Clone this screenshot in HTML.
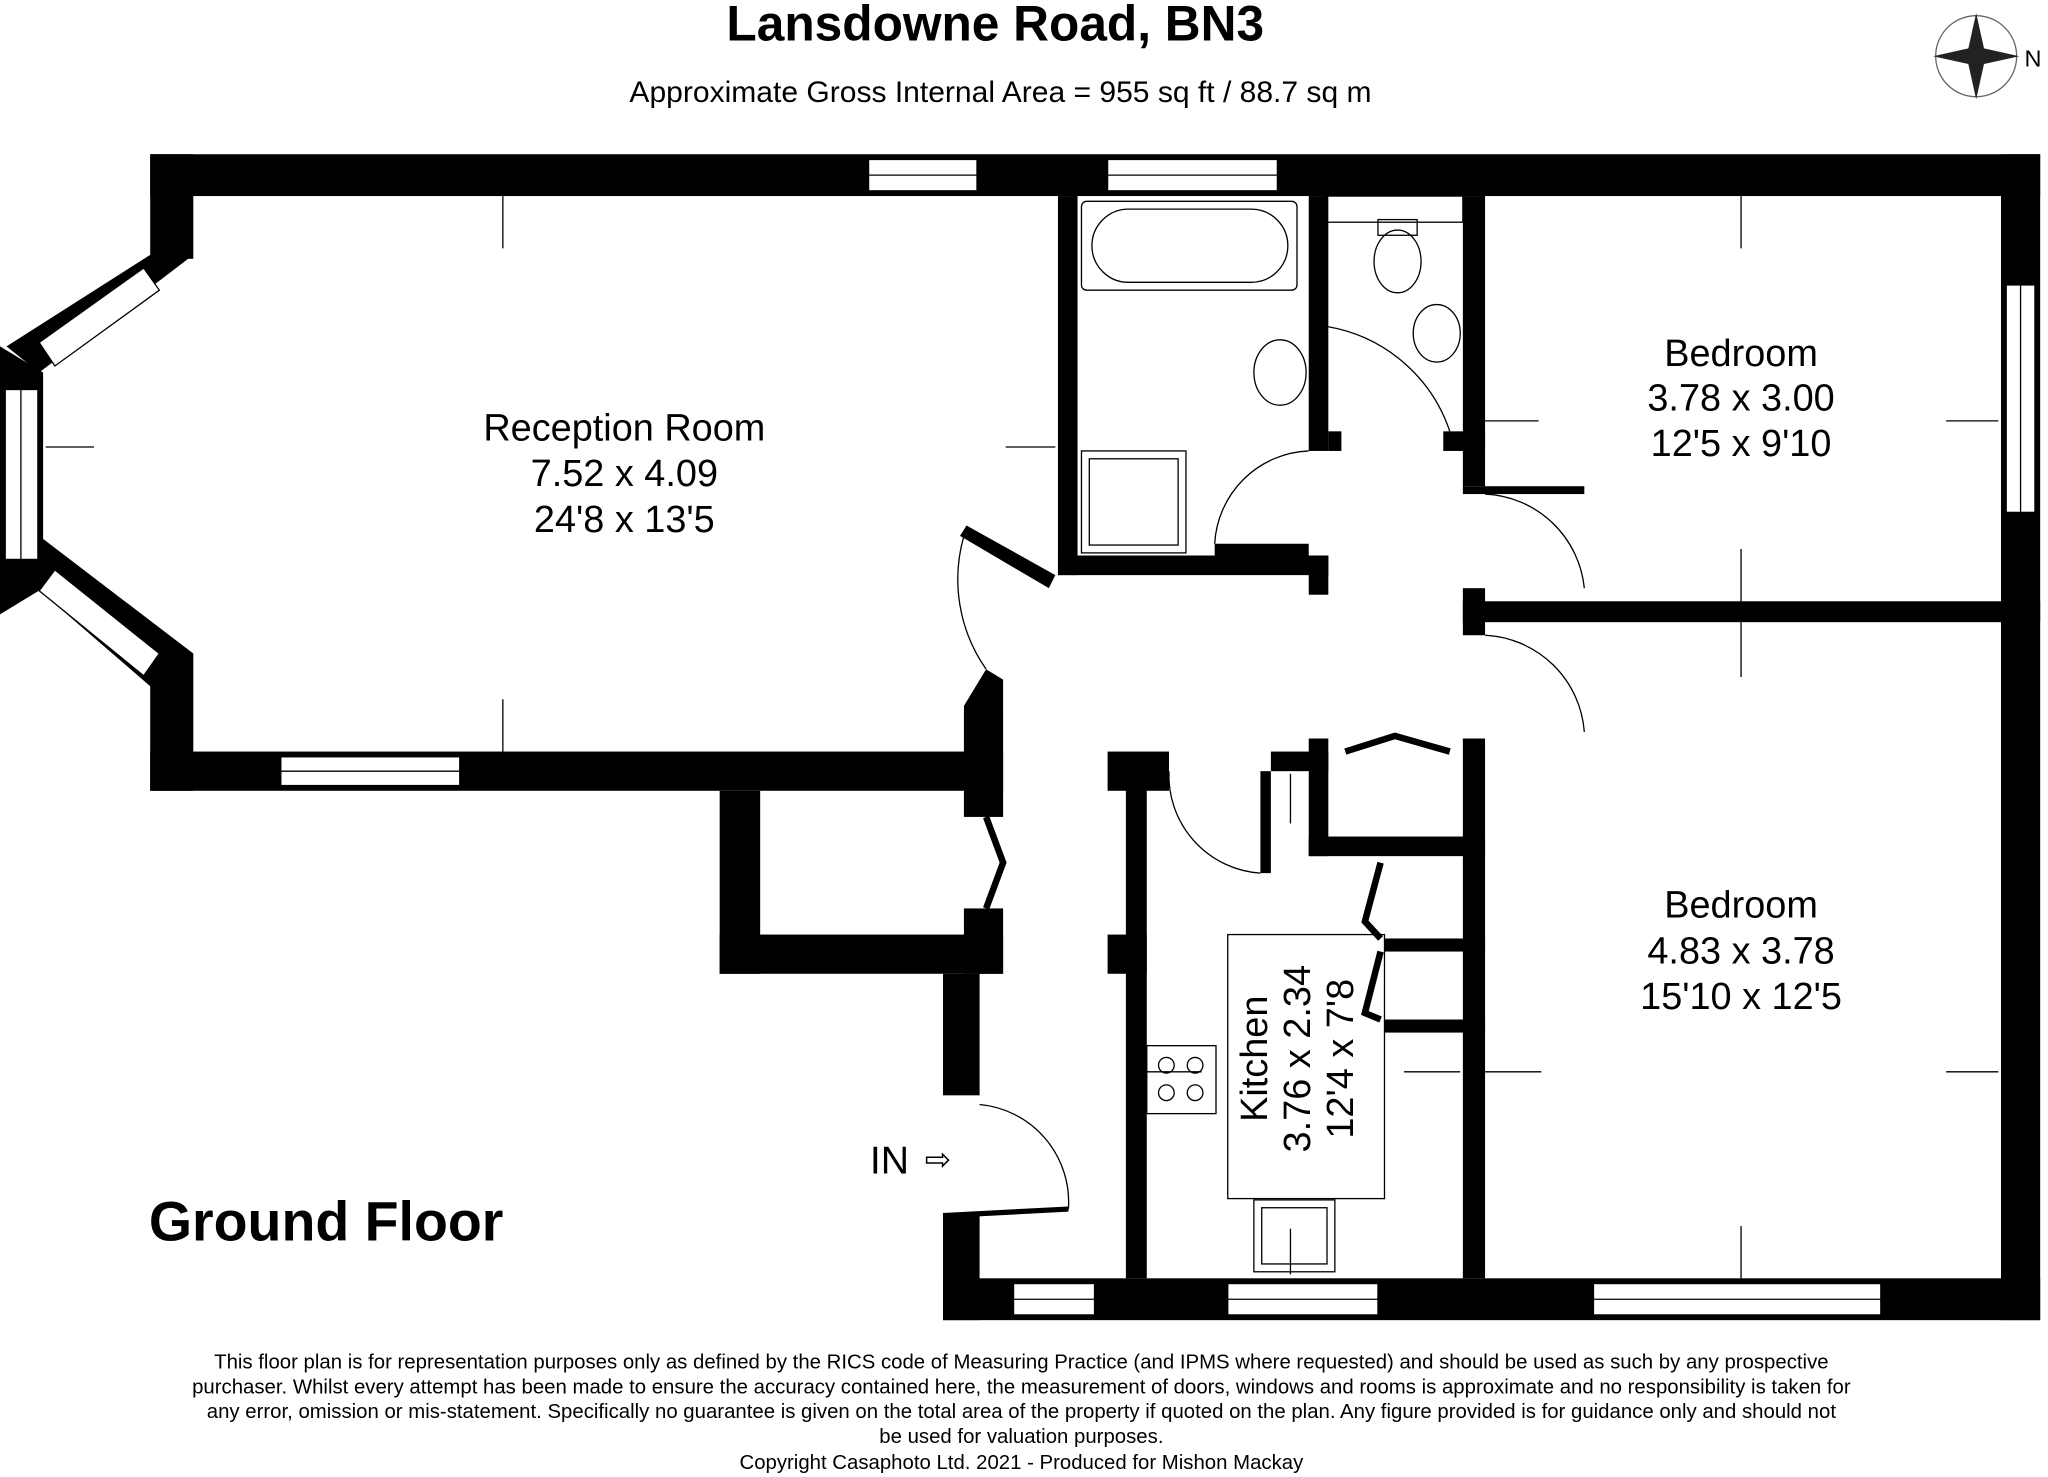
<!DOCTYPE html>
<html><head><meta charset="utf-8"><style>
html,body{margin:0;padding:0;background:#fff;}
svg{display:block;}
text{font-family:"Liberation Sans",sans-serif;fill:#000;}
</style></head><body>
<svg width="2048" height="1477" viewBox="0 0 1568 1130" preserveAspectRatio="none" xmlns="http://www.w3.org/2000/svg">
<rect width="1568" height="1130" fill="#fff"/>
<text x="762" y="31" font-size="38" font-weight="bold" text-anchor="middle">Lansdowne Road, BN3</text>
<text x="766" y="78" font-size="23" text-anchor="middle">Approximate Gross Internal Area = 955 sq ft / 88.7 sq m</text>
<circle cx="1513" cy="43" r="31" fill="none" stroke="#666" stroke-width="1"/>
<polygon points="1513,10 1519,37 1546,43 1519,49 1513,76 1507,49 1480,43 1507,37" fill="#222"/>
<text x="1550" y="51" font-size="18">N</text>
<g fill="#000">
<rect x="115" y="118" width="1447" height="32"/>
<rect x="1532" y="118" width="30" height="892"/>
<rect x="115" y="118" width="33" height="80"/>
<rect x="115" y="500" width="33" height="105"/>
<rect x="115" y="575" width="653" height="30"/>
<polygon points="115,195 148,195 30,285 5,265"/>
<polygon points="0,265 33,285 33,450 0,470"/>
<polygon points="5,430 30,410 148,500 115,525"/>
<rect x="722" y="978" width="840" height="32"/>
<rect x="722" y="745" width="28" height="93"/>
<rect x="722" y="930" width="28" height="80"/>
<rect x="551" y="605" width="31" height="140"/>
<rect x="551" y="715" width="217" height="30"/>
<rect x="738" y="575" width="30" height="50"/>
<rect x="738" y="695" width="30" height="50"/>
<polygon points="738,540 755,512 768,520 768,575 738,575"/>
<rect x="862" y="590" width="16" height="388"/>
<rect x="848" y="575" width="47" height="30"/>
<rect x="848" y="715" width="30" height="30"/>
<rect x="810" y="150" width="15" height="290"/>
<rect x="810" y="425" width="207" height="15"/>
<rect x="1002" y="425" width="15" height="30"/>
<rect x="930" y="416" width="72" height="9"/>
<rect x="1002" y="150" width="15" height="195"/>
<rect x="1017" y="330" width="10" height="15"/>
<polygon points="735,410 740,402 808,440 803,450"/>
<rect x="1120" y="150" width="17" height="222"/>
<rect x="1105" y="330" width="32" height="15"/>
<rect x="1120" y="372" width="93" height="6"/>
<rect x="1120" y="460" width="442" height="16"/>
<rect x="1120" y="450" width="17" height="36"/>
<rect x="1120" y="565" width="17" height="413"/>
<rect x="1002" y="565" width="15" height="90"/>
<rect x="1002" y="640" width="135" height="15"/>
<rect x="1060" y="718" width="77" height="10"/>
<rect x="1060" y="780" width="77" height="10"/>
<rect x="973" y="575" width="44" height="15"/>
<rect x="965" y="590" width="8" height="78"/>
</g>
<g fill="#fff" stroke="#000" stroke-width="1">
<rect x="665" y="122" width="83" height="24"/><line x1="665" y1="134" x2="748" y2="134"/>
<rect x="848" y="122" width="130" height="24"/><line x1="848" y1="134" x2="978" y2="134"/>
<rect x="1536" y="218" width="22" height="174"/><line x1="1547" y1="218" x2="1547" y2="392"/>
<rect x="215" y="579" width="137" height="22"/><line x1="215" y1="590" x2="352" y2="590"/>
<rect x="776" y="982" width="62" height="24"/><line x1="776" y1="994" x2="838" y2="994"/>
<rect x="940" y="982" width="115" height="24"/><line x1="940" y1="994" x2="1055" y2="994"/>
<rect x="1220" y="982" width="220" height="24"/><line x1="1220" y1="994" x2="1440" y2="994"/>
<rect x="4" y="298" width="25" height="130"/><line x1="16" y1="298" x2="16" y2="428"/>
<polygon points="30,262 110,205 122,222 42,280"/>
<polygon points="30,452 42,436 122,500 110,517"/>
</g>
<g fill="none" stroke="#000" stroke-width="1">
<path d="M738,410 A120,120 0 0 0 755,512"/>
<path d="M930,416 A75,75 0 0 1 1002,345"/>
<path d="M1017,250 A120,120 0 0 1 1110,330"/>
<path d="M1137,486 A80,80 0 0 1 1213,560"/>
<path d="M1137,378 A80,80 0 0 1 1213,450"/>
<path d="M895,590 A75,75 0 0 0 965,668"/>
<path d="M750,845 A75,75 0 0 1 818,925"/>
<rect x="940" y="715" width="120" height="202"/>
<rect x="878" y="800" width="53" height="52"/>
<circle cx="893" cy="815" r="6"/><circle cx="915" cy="815" r="6"/><circle cx="893" cy="836" r="6"/><circle cx="915" cy="836" r="6"/>
<rect x="960" y="918" width="62" height="55"/><rect x="966" y="924" width="50" height="43"/>
<rect x="828" y="345" width="80" height="78"/><rect x="834" y="351" width="68" height="66"/>
<rect x="828" y="154" width="165" height="68" rx="4"/><rect x="836" y="160" width="150" height="56" rx="28"/>
<ellipse cx="1070" cy="200" rx="18" ry="24"/><rect x="1055" y="168" width="30" height="12"/>
<ellipse cx="1100" cy="255" rx="18" ry="22"/>
<ellipse cx="980" cy="285" rx="20" ry="25"/>
<rect x="1015" y="150" width="105" height="20"/>
</g>
<g stroke="#000" stroke-width="5" fill="none">
<path d="M755,625 L768,660 L755,695"/>
<path d="M1030,575 L1068,563 L1110,575"/>
<path d="M1057,660 L1045,705 L1057,718"/>
<path d="M1057,728 L1045,775 L1057,780"/>
<line x1="722" y1="930" x2="818" y2="925" stroke-width="4"/>
</g>
<g stroke="#000" stroke-width="1">
<line x1="385" y1="150" x2="385" y2="190"/><line x1="385" y1="535" x2="385" y2="575"/>
<line x1="35" y1="342" x2="72" y2="342"/><line x1="770" y1="342" x2="808" y2="342"/>
<line x1="1333" y1="150" x2="1333" y2="190"/><line x1="1333" y1="420" x2="1333" y2="460"/>
<line x1="1137" y1="322" x2="1178" y2="322"/><line x1="1490" y1="322" x2="1530" y2="322"/>
<line x1="1333" y1="476" x2="1333" y2="518"/><line x1="1333" y1="938" x2="1333" y2="978"/>
<line x1="1137" y1="820" x2="1180" y2="820"/><line x1="1490" y1="820" x2="1530" y2="820"/>
<line x1="1075" y1="820" x2="1118" y2="820"/><line x1="878" y1="820" x2="920" y2="820"/>
<line x1="988" y1="592" x2="988" y2="630"/><line x1="988" y1="940" x2="988" y2="975"/>
</g>
<text x="478" y="337" font-size="29" text-anchor="middle">Reception Room</text>
<text x="478" y="372" font-size="29" text-anchor="middle">7.52 x 4.09</text>
<text x="478" y="407" font-size="29" text-anchor="middle">24'8 x 13'5</text>
<text x="1333" y="280" font-size="29" text-anchor="middle">Bedroom</text>
<text x="1333" y="314" font-size="29" text-anchor="middle">3.78 x 3.00</text>
<text x="1333" y="349" font-size="29" text-anchor="middle">12'5 x 9'10</text>
<text x="1333" y="702" font-size="29" text-anchor="middle">Bedroom</text>
<text x="1333" y="737" font-size="29" text-anchor="middle">4.83 x 3.78</text>
<text x="1333" y="772" font-size="29" text-anchor="middle">15'10 x 12'5</text>
<g transform="translate(995,810) rotate(-90)">
<text x="0" y="-25" font-size="29" text-anchor="middle">Kitchen</text>
<text x="0" y="8" font-size="29" text-anchor="middle">3.76 x 2.34</text>
<text x="0" y="41" font-size="29" text-anchor="middle">12'4 x 7'8</text>
</g>
<text x="666" y="898" font-size="30">IN</text>
<text x="708" y="895" font-size="24" fill="#bbb">⇨</text>
<text x="114" y="949" font-size="42.5" font-weight="bold">Ground Floor</text>
<g font-size="15.6" text-anchor="middle">
<text x="782" y="1047">This floor plan is for representation purposes only as defined by the RICS code of Measuring Practice (and IPMS where requested) and should be used as such by any prospective</text>
<text x="782" y="1066">purchaser. Whilst every attempt has been made to ensure the accuracy contained here, the measurement of doors, windows and rooms is approximate and no responsibility is taken for</text>
<text x="782" y="1085">any error, omission or mis-statement. Specifically no guarantee is given on the total area of the property if quoted on the plan. Any figure provided is for guidance only and should not</text>
<text x="782" y="1104">be used for valuation purposes.</text>
<text x="782" y="1124">Copyright Casaphoto Ltd. 2021 - Produced for Mishon Mackay</text>
</g>
</svg>
</body></html>
